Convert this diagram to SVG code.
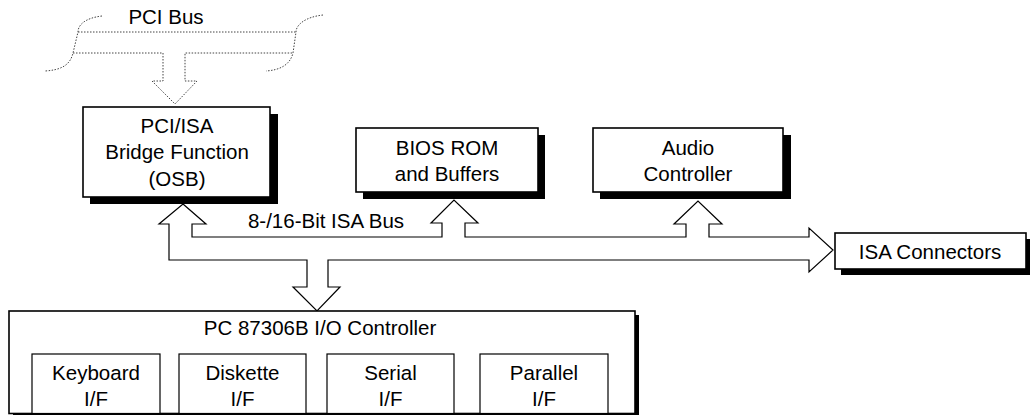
<svg xmlns="http://www.w3.org/2000/svg" width="1030" height="415" viewBox="0 0 1030 415">
<style>
text{font-family:"Liberation Sans",Arial,sans-serif;font-size:20.5px;fill:#000;text-anchor:middle}
.box{fill:#fff;stroke:#000;stroke-width:1.6}
.sh{fill:#000}
.inner{fill:#fff;stroke:#000;stroke-width:1.2}
.bus{fill:#fff;stroke:#000;stroke-width:1.2;stroke-linejoin:miter}
.dot{fill:none;stroke:#444;stroke-width:1;stroke-dasharray:1.5 1.5}
</style>
<rect width="1030" height="415" fill="#fff"/>
<g id="pci-bus">
<path class="dot" d="M102,16 C85,18 78,25 78,32 L73,53 C70,66 60,70 45,71"/>
<path class="dot" d="M323,15 C305,17 296,25 296,32 L293,53 C290,65 280,70 266,71"/>
<path class="dot" d="M78,32 L296,32 M73,53 L163,53 L163,81 L152,81 L175,104 L197,81 L185,81 L185,53 L293,53"/>
<text x="166" y="24">PCI Bus</text>
</g>
<g id="connectors">
<path class="bus" d="M183,204 L206,224 L192,224 L192,237 L442,237 L442,223 L431,223 L454,200 L478,223 L465,223 L465,237 L686,237 L686,224 L674,224 L698,201 L722,224 L709,224 L709,237 L809,237 L809,228 L833,250 L809,272 L809,260 L328,260 L328,287 L340,287 L317,311 L293,287 L307,287 L307,260 L169,260 L169,224 L159,224 Z"/>
<text x="326" y="228">8-/16-Bit ISA Bus</text>
</g>
<g id="bridge">
<rect class="sh" x="90" y="114" width="188" height="90"/>
<rect class="box" x="83" y="107" width="187" height="90"/>
<text x="177" y="133">PCI/ISA</text>
<text x="177" y="159">Bridge Function</text>
<text x="177" y="186">(OSB)</text>
</g>
<g id="bios">
<rect class="sh" x="363" y="135" width="182" height="64"/>
<rect class="box" x="356" y="128" width="182" height="64"/>
<text x="447" y="155">BIOS ROM</text>
<text x="447" y="181">and Buffers</text>
</g>
<g id="audio">
<rect class="sh" x="600" y="135" width="191" height="64"/>
<rect class="box" x="593" y="128" width="190" height="64"/>
<text x="688" y="155">Audio</text>
<text x="688" y="181">Controller</text>
</g>
<g id="isa-connectors">
<rect class="sh" x="841" y="239" width="191" height="36"/>
<rect class="box" x="835" y="233" width="191" height="36"/>
<text x="930" y="259">ISA Connectors</text>
</g>
<g id="io-controller">
<rect class="sh" x="13" y="315" width="626" height="102"/>
<rect class="box" x="9" y="311" width="626" height="102.5"/>
<text x="320" y="335">PC 87306B I/O Controller</text>
</g>
<g id="keyboard">
<rect class="inner" x="32" y="354" width="128" height="59.5"/>
<text x="96" y="380">Keyboard</text>
<text x="96" y="406">I/F</text>
</g>
<g id="diskette">
<rect class="inner" x="179" y="354" width="127" height="59.5"/>
<text x="242.5" y="380">Diskette</text>
<text x="242.5" y="406">I/F</text>
</g>
<g id="serial">
<rect class="inner" x="327" y="354" width="127" height="59.5"/>
<text x="390.5" y="380">Serial</text>
<text x="390.5" y="406">I/F</text>
</g>
<g id="parallel">
<rect class="inner" x="480" y="354" width="128" height="59.5"/>
<text x="544" y="380">Parallel</text>
<text x="544" y="406">I/F</text>
</g>
</svg>
